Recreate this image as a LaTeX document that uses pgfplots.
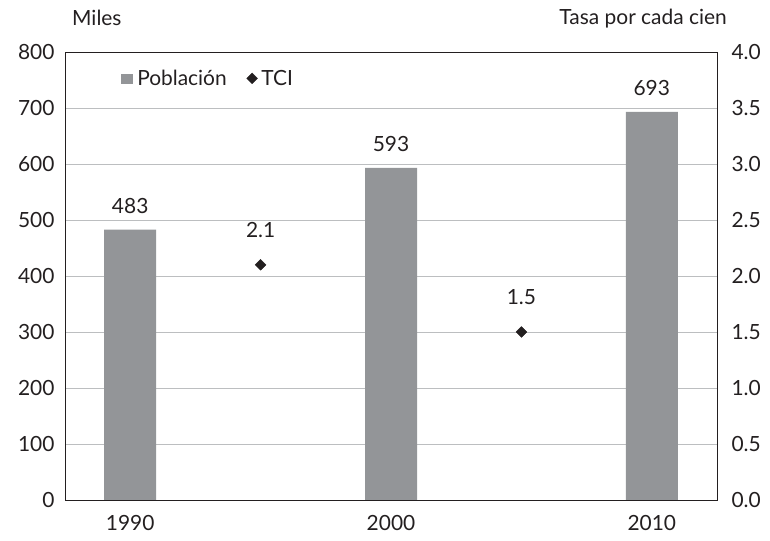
\documentclass[border=0pt]{standalone}
\usepackage{fontspec}
\setmainfont{Lato}
\usepackage{pgfplots}
\pgfplotsset{compat=1.18}
\definecolor{barcol}{HTML}{939598}
\definecolor{framecol}{HTML}{231F20}
\definecolor{gridcol}{HTML}{BCBEC0}
\begin{document}
\begin{tikzpicture}[font=\fontsize{21}{24}\selectfont]
\begin{axis}[
  name=ax1,
  scale only axis, width=652bp, height=448bp,
  xmin=1987.5, xmax=2012.5, ymin=0, ymax=800,
  xtick={1990,2000,2010},
  xticklabels={1990,2000,2010},
  ytick={0,100,...,800},
  ytick pos=left, xtick pos=bottom,
  major tick length=0pt,
  ymajorgrids, grid style={gridcol, line width=0.8pt},
  axis line style={framecol, line width=0.9pt},
  /pgf/number format/assume math mode=true,
  xticklabel style={yshift=-12bp, text=framecol},
  yticklabel style={xshift=-7bp, text=framecol},
  legend style={draw=none, fill=none, at={(rel axis cs:0.086,0.965)}, anchor=north west, legend columns=2, /tikz/every even column/.append style={column sep=16bp}, inner sep=0pt, nodes={inner xsep=4bp, text=framecol}},
  legend cell align=left,
]
\addplot[ybar, bar width=52bp, fill=barcol, draw=none,
  nodes near coords, nodes near coords style={anchor=south, inner sep=0pt, yshift=16bp, text=framecol},
  area legend,
  legend image code/.code={\fill[barcol] (0bp,-5.5bp) rectangle (12bp,4.5bp);}]
  coordinates {(1990,483) (2000,593) (2010,693)};
\addlegendentry{Población}
\addlegendimage{only marks, mark=square*, mark size=3.8bp, mark options={rotate=45}, color=framecol}
\addlegendentry{TCI}
\end{axis}
\begin{axis}[
  scale only axis, width=652bp, height=448bp,
  xmin=1987.5, xmax=2012.5, ymin=0, ymax=4,
  axis x line=none, axis y line*=right,
  ytick={0,0.5,...,4},
  major tick length=0pt,
  axis line style={framecol, line width=0.9pt},
  /pgf/number format/assume math mode=true,
  yticklabel style={/pgf/number format/fixed, /pgf/number format/fixed zerofill, /pgf/number format/precision=1, xshift=11bp, text=framecol},
]
\addplot[only marks, mark=square*, mark size=3.8bp, mark options={rotate=45}, color=framecol,
  nodes near coords, nodes near coords style={anchor=south, inner sep=0pt, yshift=27bp, text=framecol, /pgf/number format/fixed, /pgf/number format/fixed zerofill, /pgf/number format/precision=1}]
  coordinates {(1995,2.1) (2005,1.5)};
\end{axis}
\node[anchor=base west, text=framecol, inner sep=0pt] at ([xshift=7bp,yshift=27bp]ax1.north west) {Miles};
\node[anchor=base east, text=framecol, inner sep=0pt] at ([xshift=10bp,yshift=28bp]ax1.north east) {Tasa por cada cien};
\pgfresetboundingbox
\path[use as bounding box] ([xshift=-65bp,yshift=-41bp]ax1.south west) rectangle ([xshift=705bp,yshift=500bp]ax1.south west);
\end{tikzpicture}
\end{document}
